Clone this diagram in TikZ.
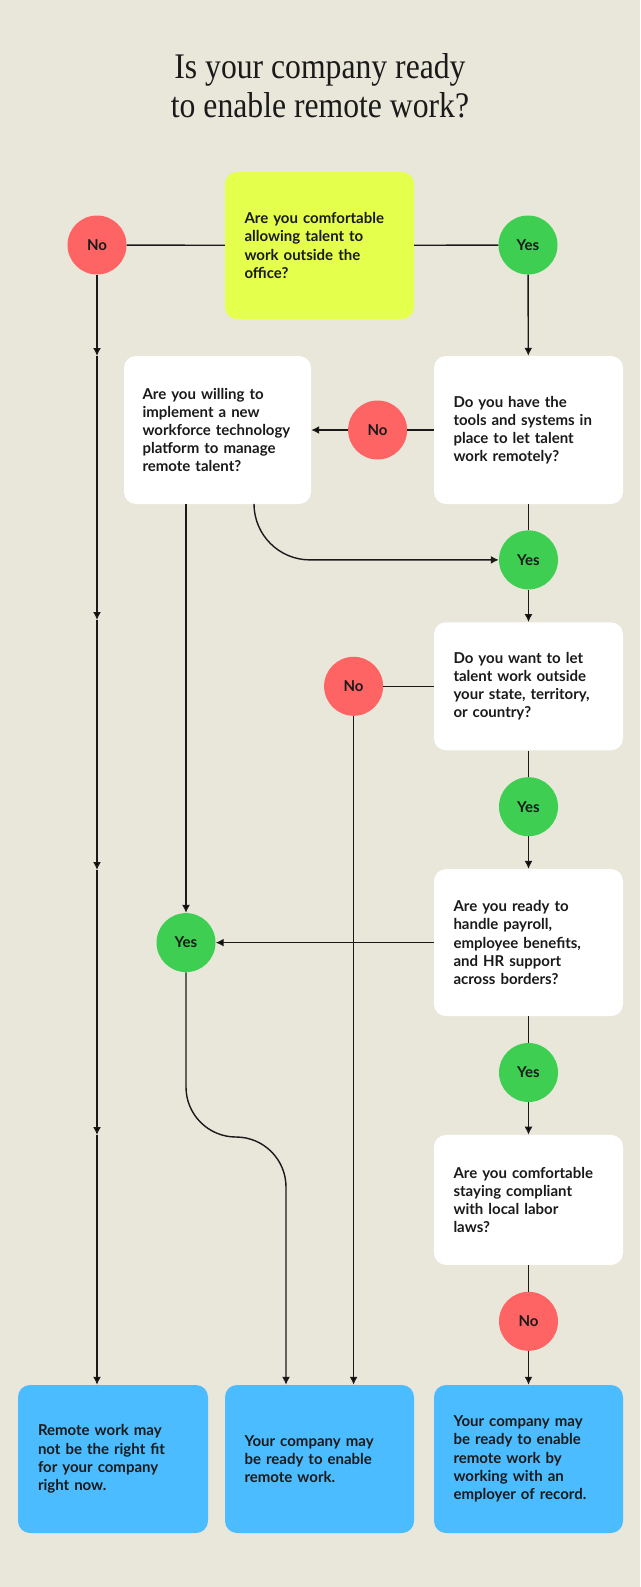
\documentclass[tikz,border=0pt]{standalone}
\usepackage{fontspec}
\setmainfont{Lato}
\newfontfamily\titlefont[FakeStretch=0.88]{Liberation Serif}
\usetikzlibrary{arrows.meta, positioning}

\definecolor{paper}{HTML}{E9E7DA}
\definecolor{ink}{HTML}{1A1A1A}
\definecolor{lime}{HTML}{E5FF4D}
\definecolor{nored}{HTML}{FF6464}
\definecolor{yesgreen}{HTML}{3ECF52}
\definecolor{endblue}{HTML}{4ABCFF}

\begin{document}
\begin{tikzpicture}[x=1pt, y=-1pt]
	\tikzset{>={Latex[length=8pt, width=8pt]},
		every node/.style={font=\fontsize{15}{18.2}\selectfont\bfseries, text=ink},
		title/.style={anchor=base, font=\titlefont\fontsize{36}{39}\selectfont},
		question/.style={fill=white, rounded corners=12pt, minimum width=189pt, text width=150pt, align=left, inner sep=0pt},
		result/.style={question, fill=endblue, minimum height=148pt},
		answer/.style={circle, minimum size=59pt, inner sep=0pt},
		no/.style={answer, fill=nored},
		yes/.style={answer, fill=yesgreen},
		line/.style={draw=ink, line width=1.4pt}}

	% background and title
	\fill[paper] (0,0) rectangle (640,1587);
	\node[title] (t1) at (320,78) {Is your company ready};
	\node[title] (t2) at (320,117) {to enable remote work?};

	% first question
	\node[question, fill=lime, minimum height=147pt] (q1) at (319.5,245.5) {Are you comfortable\\allowing talent to\\work outside the\\office?};
	\node[no] (no1) at (97,245) {No};
	\node[yes] (yes1) at (528,245) {Yes};

	% right column
	\node[question, minimum height=148pt] (q2) at (528.5,430) {Do you have the\\tools and systems in\\place to let talent\\work remotely?};
	\node[no, left=26.5pt of q2] (no2) {No};
	\node[question, minimum width=187pt, minimum height=148pt] (q3) at (217.5,430) {Are you willing to\\implement a new\\workforce technology\\platform to manage\\remote talent?};
	\node[yes, below=26pt of q2] (yes2) {Yes};
	\node[question, minimum height=128pt, below=32.5pt of yes2] (q4) {Do you want to let\\talent work outside\\your state, territory,\\or country?};
	\node[no, left=50.5pt of q4] (no3) {No};
	\node[yes, below=26.5pt of q4] (yes3) {Yes};
	\node[question, minimum height=147pt, below=32.5pt of yes3] (q5) {Are you ready to\\handle payroll,\\employee benefits,\\and HR support\\across borders?};
	\node[yes] (yes4) at ([xshift=-31.5pt]q3.south |- q5) {Yes};
	\node[yes, below=26.5pt of q5] (yes5) {Yes};
	\node[question, minimum height=130pt, below=32.5pt of yes5] (q6) {Are you comfortable\\staying compliant\\with local labor\\laws?};
	\node[no, below=26.5pt of q6] (no4) {No};

	% outcomes
	\node[result, minimum width=190pt] (r1) at (113,1459) {Remote work may\\not be the right fit\\for your company\\right now.};
	\node[result] (r2) at (319.5,1459) {Your company may\\be ready to enable\\remote work.};
	\node[result] (r3) at (528.5,1459) {Your company may\\be ready to enable\\remote work by\\working with an\\employer of record.};

	% helper points
	\coordinate (m1) at (97,356);
	\coordinate (m2) at (97,620);
	\coordinate (m3) at (97,870);
	\coordinate (m4) at (97,1135);
	\coordinate (s1) at (186,1137);
	\coordinate (s2) at (286,1137);

	\draw[line]
		(no1) edge (q1)
		(q1) edge (yes1)
		(q2) edge (no2)
		(q2) edge (yes2)
		(q4) edge (no3)
		(q4) edge (yes3)
		(q5) edge (yes5)
		(q6) edge (no4)
		(yes1) edge[->] (q2)
		(no2) edge[->] (q3)
		(yes2) edge[->] (q4)
		(yes3) edge[->] (q5)
		(q5) edge[->] (yes4)
		(yes5) edge[->] (q6)
		(no4) edge[->] (r3)
		(no1) edge[->] (m1)
		(m1) edge[->] (m2)
		(m2) edge[->] (m3)
		(m3) edge[->] (m4)
		(m4) edge[->] (no1 |- r1.north)
		(no3) edge[->] (no3 |- r2.north)
		([xshift=-31.5pt]q3.south) edge[->] (yes4);

	\draw[line, ->, rounded corners=56pt] ([xshift=36.5pt]q3.south) |- (yes2);
	\draw[line, ->, rounded corners=50pt] (yes4) -- (s1) -- (s2) -- (s2 |- r2.north);
\end{tikzpicture}
\end{document}
